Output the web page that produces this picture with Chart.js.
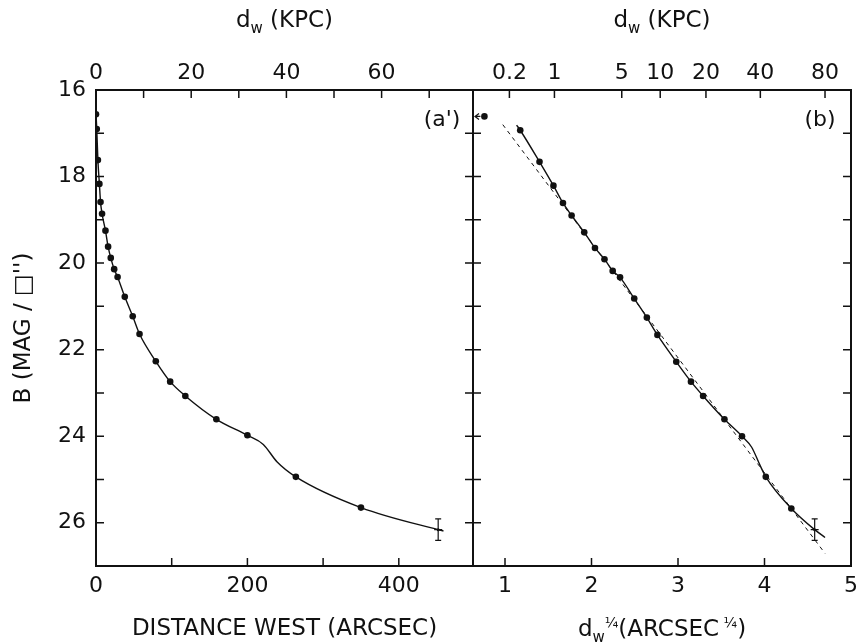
<!DOCTYPE html>
<html>
<head>
 <meta charset="utf-8">
 <title>B surface brightness, distance west</title>
 <script src="https://cdn.jsdelivr.net/npm/chart.js@4.4.1/dist/chart.umd.min.js"></script>
 <style>
  html, body { margin: 0; padding: 0; background: #fff; overflow: hidden; width: 856px; height: 643px; }
  #left  { position: absolute; left: 0; top: 0; }
  #right { position: absolute; left: 466px; top: 0; }
 </style>
</head>
<body>
<canvas id="left" width="478" height="643"></canvas>
<canvas id="right" width="420" height="643"></canvas>

<script>
 // panel (a): distance west (arcsec) against B
 var arcsec = [0, 1, 2.5, 4.5, 6, 8, 12.5, 16, 19.5, 24, 28.5, 38, 48.5, 57.5, 79, 98, 118, 159, 200, 264, 350, 452];
 var magA   = [16.56, 16.9, 17.62, 18.17, 18.59, 18.86, 19.25, 19.62, 19.88, 20.14, 20.32, 20.78, 21.23, 21.64, 22.27, 22.74, 23.07, 23.61, 23.98, 24.94, 25.65, 26.16];
 var errA   = [0, 0, 0, 0, 0, 0, 0, 0, 0, 0, 0, 0, 0, 0, 0, 0, 0, 0, 0, 0, 0, 0.25];
 // extra vertices of the drawn curve (no marker)
 var curveAx = [221, 239, 459];
 var curveAy = [24.19, 24.59, 26.19];

 // panel (b): d^(1/4) against B
 var quarter = [1.176, 1.399, 1.56, 1.67, 1.77, 1.916, 2.04, 2.15, 2.245, 2.33, 2.494, 2.64, 2.762, 2.98, 3.15, 3.29, 3.537, 3.74, 4.015, 4.31, 4.58];
 var magB    = [16.93, 17.66, 18.21, 18.61, 18.9, 19.29, 19.65, 19.91, 20.18, 20.33, 20.82, 21.26, 21.66, 22.28, 22.74, 23.07, 23.61, 24.0, 24.94, 25.67, 26.16];
 var errB    = [0, 0, 0, 0, 0, 0, 0, 0, 0, 0, 0, 0, 0, 0, 0, 0, 0, 0, 0, 0, 0.25];
 var curveBx = [1.134, 3.85, 3.95, 4.70];
 var curveBy = [16.81, 24.25, 24.68, 26.34];
 var innerQ   = [0.762];
 var innerMag = [16.61];
 // dashed r^1/4 law
 var fitQ   = [0.974, 4.70];
 var fitMag = [16.80, 26.71];

 // tick values and labels
 var arcsecTicks  = [0, 100, 200, 300, 400];
 var arcsecLabels = ['0', '', '200', '', '400'];
 var kpcTicksA  = [0, 10, 20, 30, 40, 50, 60, 70];
 var kpcLabelsA = ['0', '', '20', '', '40', '', '60', ''];
 var kpcMaxA = 79.2;
 var quarterTicks = [1, 2, 3, 4, 5];
 var kpcTicksB = [0.2, 1, 5, 10, 20, 40, 80];
 var kpcPerArcsec = 0.164;
 var magTicks  = [16, 17, 18, 19, 20, 21, 22, 23, 24, 25, 26];

 var ink = '#111';
 var tickFont = { family: 'DejaVu Sans', size: 22 };
 var titleSize = 23;

 function pts(xs, ys) { return xs.map(function(x, i) { return { x: x, y: ys[i] }; }); }
 function merged(xs, ys, ex, ey) {
  return pts(xs.concat(ex), ys.concat(ey)).sort(function(a, b) { return a.x - b.x; });
 }

 // draws "d" + subscript "w" etc. centred at cx
 function drawRich(ctx, parts, cx, base) {
  var w = 0;
  parts.forEach(function(p) {
   p.size = p[1] === 'sub' ? 15 : (p[1] === 'sup' ? 14 : titleSize);
   ctx.font = p.size + 'px "DejaVu Sans"';
   p.w = ctx.measureText(p[0]).width;
   w += p.w;
  });
  var x = cx - w / 2;
  ctx.textAlign = 'left';
  ctx.textBaseline = 'alphabetic';
  parts.forEach(function(p) {
   ctx.font = p.size + 'px "DejaVu Sans"';
   var dy = p[1] === 'sub' ? 6 : (p[1] === 'sup' ? -9 : 0);
   ctx.fillText(p[0], x, base + dy);
   x += p.w;
  });
 }

 var frame = {
  id: 'frame',
  afterDatasetsDraw: function(chart, args, opts) {
   var ctx = chart.ctx, a = chart.chartArea, t = 8;
   ctx.save();
   ctx.strokeStyle = ink;
   ctx.fillStyle = ink;
   ctx.lineWidth = 2;
   ctx.strokeRect(a.left, a.top, a.right - a.left, a.bottom - a.top);

   // inward ticks
   ctx.lineWidth = 1.5;
   Object.keys(chart.scales).forEach(function(id) {
    var s = chart.scales[id];
    s.ticks.forEach(function(tk) {
     var p = s.getPixelForValue(tk.value);
     ctx.beginPath();
     if (s.axis === 'y') {
      if (p <= a.top + 1 || p >= a.bottom - 1) return;
      ctx.moveTo(a.left, p); ctx.lineTo(a.left + t, p);
      ctx.moveTo(a.right, p); ctx.lineTo(a.right - t, p);
     } else {
      if (p <= a.left + 1 || p >= a.right - 1) return;
      if (s.position === 'top') { ctx.moveTo(p, a.top); ctx.lineTo(p, a.top + t); }
      else { ctx.moveTo(p, a.bottom); ctx.lineTo(p, a.bottom - t); }
     }
     ctx.stroke();
    });
   });

   // error bars and the inner arrow
   ctx.lineWidth = 1.2;
   chart.data.datasets.forEach(function(ds, i) {
    var meta = chart.getDatasetMeta(i), ys = chart.scales.y;
    if (ds.errors) {
     ds.errors.forEach(function(e, j) {
      if (!e) return;
      var el = meta.data[j];
      var y0 = ys.getPixelForValue(ds.data[j].y - e), y1 = ys.getPixelForValue(ds.data[j].y + e);
      ctx.beginPath();
      ctx.moveTo(el.x, y0); ctx.lineTo(el.x, y1);
      ctx.moveTo(el.x - 3, y0); ctx.lineTo(el.x + 3, y0);
      ctx.moveTo(el.x - 3, y1); ctx.lineTo(el.x + 3, y1);
      ctx.moveTo(el.x - 4, el.y); ctx.lineTo(el.x + 4, el.y);
      ctx.stroke();
     });
    }
    if (ds.arrow) {
     meta.data.forEach(function(el) {
      var x0 = a.left + 2;
      ctx.beginPath();
      ctx.moveTo(el.x - 4, el.y); ctx.lineTo(x0, el.y);
      ctx.moveTo(x0 + 4, el.y - 3); ctx.lineTo(x0, el.y); ctx.lineTo(x0 + 4, el.y + 3);
      ctx.stroke();
     });
    }
   });

   // titles and panel letter
   var cx = (a.left + a.right) / 2;
   (opts.titles || []).forEach(function(tt) { drawRich(ctx, tt.parts, cx, tt.y); });
   if (opts.panel) {
    ctx.font = '22px "DejaVu Sans"';
    ctx.textAlign = 'center';
    ctx.textBaseline = 'middle';
    ctx.fillText(opts.panel, a.right - 31, a.top + 30);
   }
   ctx.restore();
  }
 };

 // axis with fixed tick values and labels taken from the arrays above
 function fixedAxis(pos, min, max, vals, labels, pad) {
  return {
   type: 'linear', position: pos, min: min, max: max,
   grid: { display: false, drawTicks: false }, border: { display: false },
   afterBuildTicks: function(s) { s.ticks = vals.map(function(v) { return { value: v }; }); },
   ticks: { autoSkip: false, maxRotation: 0, padding: pad, font: tickFont, color: ink,
            callback: function(v, i) { return labels[i]; } }
  };
 }

 // ---- panel (a)
 var xa = fixedAxis('bottom', 0, 498, arcsecTicks, arcsecLabels, 7);
 xa.afterFit = function(s) { s.height = 77; };
 var xa2 = fixedAxis('top', 0, kpcMaxA, kpcTicksA, kpcLabelsA, 4);
 xa2.afterFit = function(s) { s.height = 90; };
 var ya = fixedAxis('left', 16, 27, magTicks, magTicks.map(function(m) { return m % 2 === 0 ? String(m) : ''; }), 10);
 ya.reverse = true;
 ya.title = { display: true, text: "B (MAG / \u25A1'')", color: ink, padding: { top: 10, bottom: 0 },
              font: { family: 'DejaVu Sans', size: titleSize } };
 ya.afterFit = function(s) { s.width = 96; };

 new Chart(document.getElementById('left'), {
  type: 'scatter',
  data: { datasets: [
   { data: merged(arcsec, magA, curveAx, curveAy), showLine: true, pointRadius: 0, borderColor: ink, borderWidth: 1.4, cubicInterpolationMode: 'monotone' },
   { data: pts(arcsec, magA), showLine: false, errors: errA, backgroundColor: ink, borderWidth: 0,
     pointRadius: errA.map(function(e) { return e ? 1.5 : 3.3; }) }
  ] },
  options: {
   responsive: false, animation: false, devicePixelRatio: 1,
   layout: { padding: { left: 0, right: 5, top: 0, bottom: 0 } },
   scales: { x: xa, x2: xa2, y: ya },
   plugins: {
    legend: { display: false }, tooltip: { enabled: false },
    frame: {
     panel: "(a')",
     titles: [ { parts: [['d'], ['w', 'sub'], [' (KPC)']], y: 27 },
               { parts: [['DISTANCE WEST (ARCSEC)']], y: 635 } ]
    }
   }
  },
  plugins: [frame]
 });

 // ---- panel (b)
 var xb = fixedAxis('bottom', 0.63, 5, quarterTicks, quarterTicks.map(String), 7);
 xb.afterFit = function(s) { s.height = 77; };
 var xb2 = fixedAxis('top', 0.63, 5, kpcTicksB.map(function(k) { return Math.pow(k / kpcPerArcsec, 0.25); }),
                     kpcTicksB.map(String), 4);
 xb2.afterFit = function(s) { s.height = 90; };
 var yb = fixedAxis('left', 16, 27, magTicks, magTicks.map(function() { return ''; }), 0);
 yb.reverse = true;
 yb.ticks.display = false;
 yb.afterFit = function(s) { s.width = 0; };

 new Chart(document.getElementById('right'), {
  type: 'scatter',
  data: { datasets: [
   { data: pts(fitQ, fitMag), showLine: true, pointRadius: 0, borderColor: ink, borderWidth: 1, borderDash: [4, 4] },
   { data: merged(quarter, magB, curveBx, curveBy), showLine: true, pointRadius: 0, borderColor: ink, borderWidth: 1.4, cubicInterpolationMode: 'monotone' },
   { data: pts(quarter, magB), showLine: false, errors: errB, backgroundColor: ink, borderWidth: 0,
     pointRadius: errB.map(function(e) { return e ? 1.5 : 3.3; }) },
   { data: pts(innerQ, innerMag), showLine: false, arrow: true, backgroundColor: ink, borderWidth: 0, pointRadius: 3.3 }
  ] },
  options: {
   responsive: false, animation: false, devicePixelRatio: 1,
   layout: { padding: { left: 7, right: 35, top: 0, bottom: 0 } },
   scales: { x: xb, x2: xb2, y: yb },
   plugins: {
    legend: { display: false }, tooltip: { enabled: false },
    frame: {
     panel: '(b)',
     titles: [ { parts: [['d'], ['w', 'sub'], [' (KPC)']], y: 27 },
               { parts: [['d'], ['w', 'sub'], ['\u00BC', 'sup'], ['(ARCSEC'], [' \u00BC', 'sup'], [')']], y: 636 } ]
    }
   }
  },
  plugins: [frame]
 });
</script>
</body>
</html>
